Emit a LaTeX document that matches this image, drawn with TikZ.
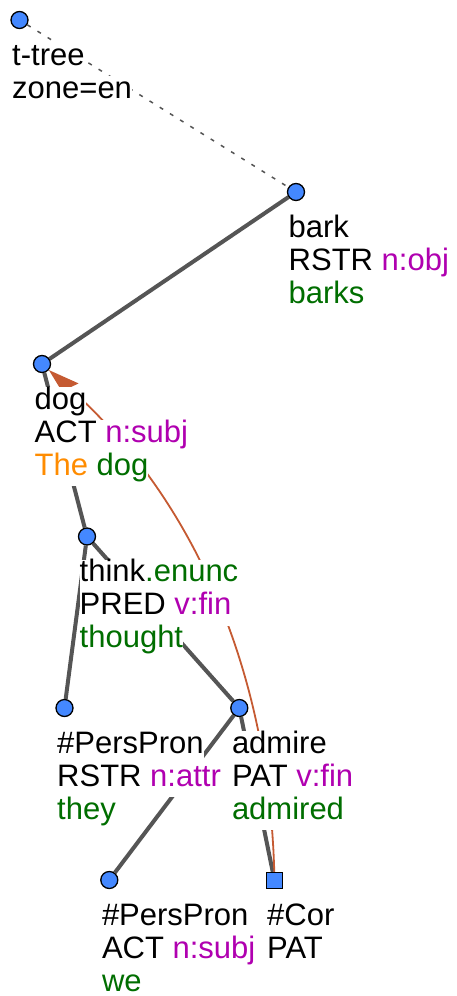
\documentclass[tikz,border=0pt]{standalone}
\usepackage{fontspec}
\setmainfont{Liberation Sans}
\usetikzlibrary{arrows.meta,backgrounds}
\definecolor{nodeblue}{RGB}{68,136,255}
\definecolor{edgegray}{RGB}{85,85,85}
\definecolor{fpurple}{RGB}{176,0,176}
\definecolor{fgreen}{RGB}{0,110,0}
\definecolor{forange}{RGB}{255,140,0}
\definecolor{corefc}{RGB}{197,90,50}
\begin{document}
\begin{tikzpicture}[x=1pt,y=-1pt,
  tnode/.style={circle,draw=black,line width=1.3pt,fill=nodeblue,minimum size=17pt,inner sep=0pt},
  tsq/.style={rectangle,draw=black,line width=1.3pt,fill=nodeblue,minimum size=16pt,inner sep=0pt},
  lbl/.style={anchor=base west,inner sep=0pt,fill=white,text height=22pt,text depth=11pt,font=\fontsize{31}{33}\selectfont},
  treeedge/.style={draw=edgegray,line width=4pt},
  rootedge/.style={draw=edgegray,line width=1.5pt,dash pattern=on 4pt off 8pt},
  coref/.style={draw=corefc,line width=1.8pt,-{Stealth[length=31pt,width=19pt,inset=4pt]}}]
\useasboundingbox (0,0) rectangle (456,996);
% tree nodes
\node[tnode] (root) at (19.5,20) {};
\node[tnode] (bark) at (296,192) {};
\node[tnode] (dog) at (42,364) {};
\node[tnode] (think) at (87,536.5) {};
\node[tnode] (pp1) at (64.5,708) {};
\node[tnode] (admire) at (239.3,708) {};
\node[tnode] (pp2) at (109.3,880) {};
\node[tsq] (cor) at (274.5,880.5) {};
% connectors (behind the labels)
\begin{scope}[on background layer]
\draw[rootedge] (root) -- (bark);
\draw[treeedge] (bark) -- (dog);
\draw[treeedge] (dog) -- (think);
\draw[treeedge] (think) -- (pp1);
\draw[treeedge] (think) -- (admire);
\draw[treeedge] (admire) -- (pp2);
\draw[treeedge] (admire) -- (cor);
\draw[coref] (cor) .. controls (268.7,668) and (191.7,496) .. (dog);
\end{scope}
% labels
\node[lbl] (root-1) at ([shift={(-7.5,45)}]root.center) {t-tree};
\node[lbl] (root-2) at ([shift={(-7.5,78)}]root.center) {zone=en};
\node[lbl] (bark-1) at ([shift={(-7.5,45)}]bark.center) {bark};
\node[lbl] (bark-2) at ([shift={(-7.5,78)}]bark.center) {RSTR \textcolor{fpurple}{n:obj}};
\node[lbl] (bark-3) at ([shift={(-7.5,111)}]bark.center) {\textcolor{fgreen}{barks}};
\node[lbl] (dog-1) at ([shift={(-7.5,45)}]dog.center) {dog};
\node[lbl] (dog-2) at ([shift={(-7.5,78)}]dog.center) {ACT \textcolor{fpurple}{n:subj}};
\node[lbl] (dog-3) at ([shift={(-7.5,111)}]dog.center) {\textcolor{forange}{The} \textcolor{fgreen}{dog}};
\node[lbl] (think-1) at ([shift={(-7.5,45)}]think.center) {think\textcolor{fgreen}{.enunc}};
\node[lbl] (think-2) at ([shift={(-7.5,78)}]think.center) {PRED \textcolor{fpurple}{v:fin}};
\node[lbl] (think-3) at ([shift={(-7.5,111)}]think.center) {\textcolor{fgreen}{thought}};
\node[lbl] (pp1-1) at ([shift={(-7.5,45)}]pp1.center) {\#PersPron};
\node[lbl] (pp1-2) at ([shift={(-7.5,78)}]pp1.center) {RSTR \textcolor{fpurple}{n:attr}};
\node[lbl] (pp1-3) at ([shift={(-7.5,111)}]pp1.center) {\textcolor{fgreen}{they}};
\node[lbl] (admire-1) at ([shift={(-7.5,45)}]admire.center) {admire};
\node[lbl] (admire-2) at ([shift={(-7.5,78)}]admire.center) {PAT \textcolor{fpurple}{v:fin}};
\node[lbl] (admire-3) at ([shift={(-7.5,111)}]admire.center) {\textcolor{fgreen}{admired}};
\node[lbl] (pp2-1) at ([shift={(-7.5,45)}]pp2.center) {\#PersPron};
\node[lbl] (pp2-2) at ([shift={(-7.5,78)}]pp2.center) {ACT \textcolor{fpurple}{n:subj}};
\node[lbl] (pp2-3) at ([shift={(-7.5,111)}]pp2.center) {\textcolor{fgreen}{we}};
\node[lbl] (cor-1) at ([shift={(-7.5,45)}]cor.center) {\#Cor};
\node[lbl] (cor-2) at ([shift={(-7.5,78)}]cor.center) {PAT};
\end{tikzpicture}
\end{document}
